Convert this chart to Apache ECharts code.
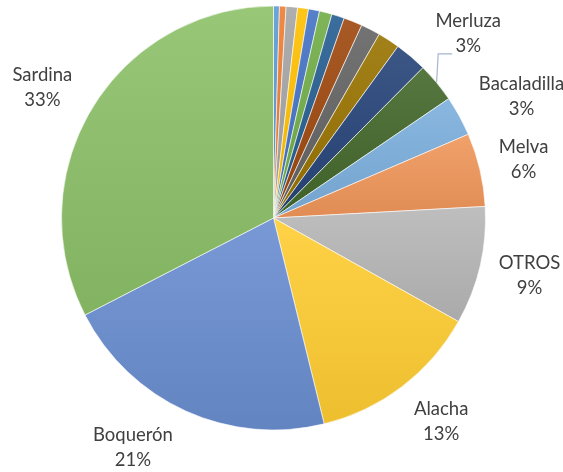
<!DOCTYPE html>
<html>
<head>
<meta charset="utf-8">
<script src="https://cdn.jsdelivr.net/npm/echarts@6/dist/echarts.min.js"></script>
<style>
  html, body { margin: 0; padding: 0; background: #ffffff; }
  #chart { width: 563px; height: 472px; }
</style>
</head>
<body>
<div id="chart"></div>
<script>
// Share of the catch by species (% of total), clockwise from 12 o'clock
var species = [
  'Especie 01', 'Especie 02', 'Especie 03', 'Especie 04', 'Especie 05', 'Especie 06',
  'Especie 07', 'Especie 08', 'Especie 09', 'Especie 10', 'Especie 11',
  'Merluza', 'Bacaladilla', 'Melva', 'OTROS', 'Alacha', 'Boquerón', 'Sardina'
];
var shares = [
  0.45, 0.50, 0.87, 0.83, 0.84, 0.96,
  0.97, 1.42, 1.48, 1.68, 2.47,
  3.03, 3.06, 5.6, 9.0, 13.05, 21.3, 32.6
];

// Office theme accents, then their darker and lighter variants
var palette = [
  '#5B9BD5', '#ED7D31', '#A5A5A5', '#FFC000', '#4472C4', '#70AD47',
  '#255E91', '#9E480E', '#636363', '#997300', '#264478', '#43682B',
  '#7CAFDD', '#F1975A', '#B7B7B7', '#FFCD33', '#698ED0', '#8CC168'
];

var CX = 273.5, CY = 218, R = 212;
var LABEL_GAP = 15;
var LABEL_MIN_SHARE = 3;
// best-fit style angular nudges for a few labels (degrees)
var labelTurn = { 'Sardina': -2, 'Boquerón': 7, 'Alacha': -2.2, 'OTROS': -0.4, 'Bacaladilla': 2.6, 'Merluza': -3.7 };

function mix(hex, f) {
  var n = parseInt(hex.slice(1), 16);
  var c = [(n >> 16) & 255, (n >> 8) & 255, n & 255];
  var t = f > 0 ? 255 : 0, a = Math.abs(f);
  c = c.map(function (v) { return Math.round(v + (t - v) * a); });
  return 'rgb(' + c.join(',') + ')';
}

var total = shares.reduce(function (s, v) { return s + v; }, 0);

function midAngle(i) {
  var before = 0;
  for (var k = 0; k < i; k++) before += shares[k];
  return (before + shares[i] / 2) / total * 360;
}

var data = species.map(function (name, i) {
  var base = palette[i];
  return {
    name: name,
    value: shares[i],
    itemStyle: {
      color: {
        type: 'linear', x: 0, y: 0, x2: 0, y2: 1,
        colorStops: [
          { offset: 0, color: mix(base, 0.10) },
          { offset: 1, color: mix(base, -0.07) }
        ]
      }
    },
    label: { show: shares[i] >= LABEL_MIN_SHARE },
    labelLine: { show: name === 'Merluza' }
  };
});

var chart = echarts.init(document.getElementById('chart'), null, { renderer: 'canvas' });

chart.setOption({
  backgroundColor: '#ffffff',
  animation: false,
  series: [{
    type: 'pie',
    center: [CX, CY],
    radius: R,
    startAngle: 90,
    clockwise: true,
    avoidLabelOverlap: false,
    itemStyle: { borderColor: '#ffffff', borderWidth: 0.6 },
    emphasis: { disabled: true },
    label: {
      position: 'outside',
      fontFamily: 'Lato',
      fontSize: 18.5,
      lineHeight: 25,
      color: '#404040',
      align: 'center',
      formatter: function (p) { return p.name + '\n' + Math.round(p.percent) + '%'; }
    },
    labelLine: {
      length: 10,
      length2: 10,
      lineStyle: { color: '#A6B6CC', width: 1.2 }
    },
    labelLayout: function (p) {
      var i = p.dataIndex;
      var name = species[i];
      var base = midAngle(i);
      var ang = (base + (labelTurn[name] || 0)) * Math.PI / 180;
      var ux = Math.sin(ang), uy = -Math.cos(ang);
      var w = p.labelRect.width, h = p.labelRect.height;
      var d = R + LABEL_GAP + (Math.abs(ux) * w + Math.abs(uy) * h) / 2;
      var x = CX + ux * d, y = CY + uy * d;
      var out = { x: x, y: y, align: 'center', verticalAlign: 'middle' };
      if (name === 'Merluza') {
        var b = base * Math.PI / 180;
        var edge = [CX + Math.sin(b) * R, CY - Math.cos(b) * R];
        var end = [x - 16, y + 20];
        var knee = [end[0] - 14, end[1]];
        out.labelLinePoints = [edge, knee, end];
      }
      return out;
    },
    data: data
  }]
});
</script>
</body>
</html>
